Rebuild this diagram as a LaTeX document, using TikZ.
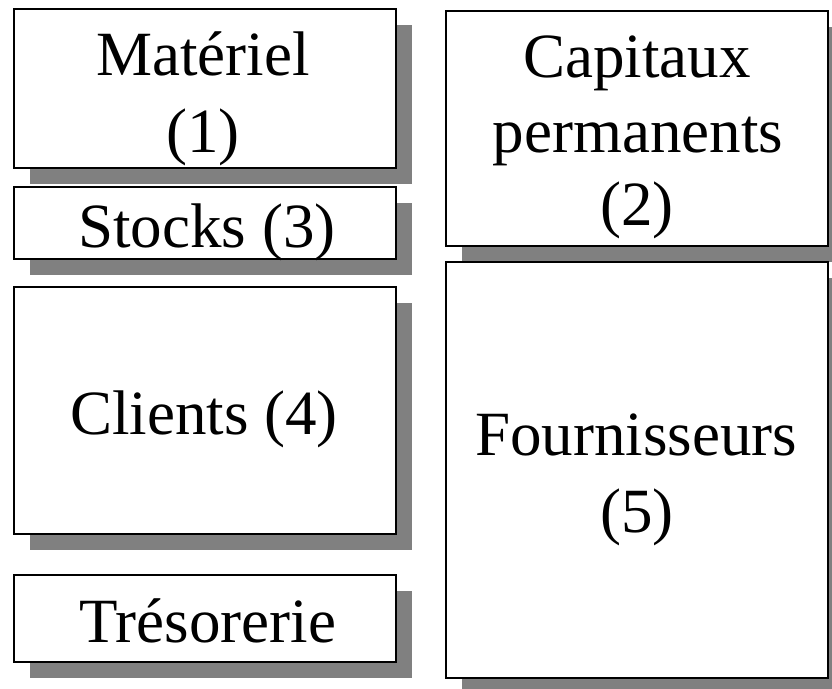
\documentclass[tikz,border=0pt]{standalone}
\usepackage{fontspec}
\setmainfont{Liberation Serif}
\usetikzlibrary{shadows}
\definecolor{shadowgray}{HTML}{808080}
\tikzset{
  box/.style={draw=black, line width=2pt, fill=white, inner sep=0pt, outer sep=0pt,
    drop shadow={shadow xshift=16pt, shadow yshift=-16pt, fill=shadowgray, opacity=1}},
  txt/.style={anchor=base, inner sep=0pt, font=\fontsize{63}{75}\selectfont, text=black}
}
\begin{document}
\begin{tikzpicture}[x=1pt, y=-1pt]
\clip (0,0) rectangle (832,688);
\fill[white] (0,0) rectangle (832,688);
% left column
\node[box, minimum width=382pt, minimum height=159pt] (mat) at (205,88.5) {};
\node[box, minimum width=382pt, minimum height=72pt] (sto) at (205,223) {};
\node[box, minimum width=382pt, minimum height=247pt] (cli) at (205,410.5) {};
\node[box, minimum width=382pt, minimum height=87pt] (tre) at (205,618.5) {};
% right column
\node[box, minimum width=382pt, minimum height=235pt] (cap) at (637,128.5) {};
\node[box, minimum width=382pt, minimum height=416pt] (fou) at (637,470) {};
% texts
\node[txt] (mat1) at (203,75) {Matériel};
\node[txt] (mat2) at (203,152) {(1)};
\node[txt] (sto1) at (207,247) {Stocks (3)};
\node[txt] (cli1) at (204,434) {Clients (4)};
\node[txt] (tre1) at (208,642) {Trésorerie};
\node[txt] (cap1) at (637,77) {Capitaux};
\node[txt] (cap2) at (638,152) {permanents};
\node[txt] (cap3) at (637,225) {(2)};
\node[txt] (fou1) at (636,455) {Fournisseurs};
\node[txt] (fou2) at (637,532) {(5)};
\end{tikzpicture}
\end{document}
